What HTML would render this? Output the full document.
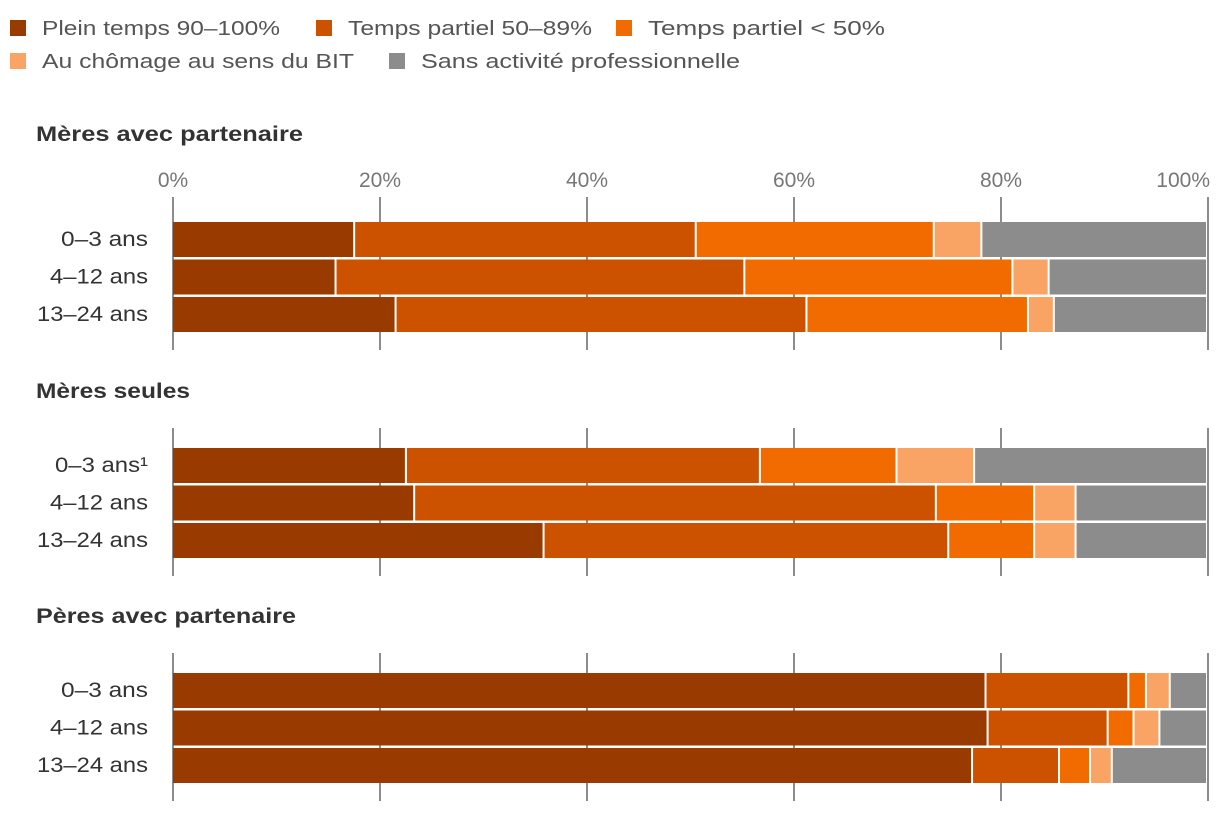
<!DOCTYPE html>
<html><head><meta charset="utf-8"><style>
body{margin:0;background:#fff;font-family:"Liberation Sans",sans-serif;}
svg text{font-family:"Liberation Sans",sans-serif;}
</style></head><body>
<svg id="chart" width="1220" height="814" xmlns="http://www.w3.org/2000/svg"></svg>
<script>
const seriesNames=["Plein temps 90–100%","Temps partiel 50–89%","Temps partiel < 50%","Au chômage au sens du BIT","Sans activité professionnelle"];
const colors=["#993a00","#cc5200","#f26b00","#f9a364","#8c8c8c"];
const groupTitles=["Mères avec partenaire","Mères seules","Pères avec partenaire"];
const categories=[["0–3 ans","4–12 ans","13–24 ans"],["0–3 ans¹","4–12 ans","13–24 ans"],["0–3 ans","4–12 ans","13–24 ans"]];
const valuesG1=[[17.6,33.0,23.0,4.6,21.8],[15.8,39.5,25.9,3.5,15.3],[21.6,39.7,21.4,2.5,14.8]];
const valuesG2=[[22.6,34.2,13.2,7.5,22.5],[23.4,50.4,9.5,4.0,12.7],[35.9,39.1,8.3,4.0,12.7]];
const valuesG3=[[78.6,13.8,1.7,2.3,3.6],[78.8,11.6,2.5,2.5,4.6],[77.3,8.4,3.0,2.1,9.2]];
const ticks=[0,20,40,60,80,100];
const NS="http://www.w3.org/2000/svg";
const svg=document.getElementById('chart');
const x=v=>173+v*10.35;
function mk(t,a,p){const e=document.createElementNS(NS,t);for(const k in a)e.setAttribute(k,a[k]);(p||svg).appendChild(e);return e;}
const legPos=[[10,28],[316,28],[616,28],[10,61],[389,61]];
const legLen=[238,244,237,312,319];
seriesNames.forEach((n,i)=>{
 const g=mk('g',{});
 
 
 mk('rect',{x:legPos[i][0],y:legPos[i][1]-8,width:16,height:16,fill:colors[i]},g);
 const t=mk('text',{x:legPos[i][0]+32,y:legPos[i][1]+7,'font-size':20,fill:'#555',textLength:legLen[i],lengthAdjust:'spacingAndGlyphs'},g);t.textContent=n;
});
const groups=[valuesG1,valuesG2,valuesG3];
const gTop=[133,390,615];
const titleLen=[267,154,260];
groups.forEach((vals,gi)=>{
 const base=gTop[gi];
 const tt=mk('text',{x:36,y:base+8,'font-size':21,'font-weight':'bold',fill:'#333',textLength:titleLen[gi],lengthAdjust:'spacingAndGlyphs'});
 
 
 tt.textContent=groupTitles[gi];
 const axTop=gi==0?197:base+38, axBot=base+(gi==0?217:186);
 ticks.forEach(tv=>{
  const l=mk('line',{x1:x(tv),x2:x(tv),y1:axTop,y2:axBot,stroke:'#666','stroke-width':1.5});
  
  
 });
 if(gi==0){ticks.forEach(tv=>{
  const t=mk('text',{x:x(tv),y:187,'font-size':21,fill:'#777','text-anchor':tv==100?'end':'middle'});
  if(tv==100)t.setAttribute('x',x(tv)+2);
  
  
  t.textContent=tv+'%';});}
 const y0=gi==0?222:base+58;
 vals.forEach((row,ri)=>{
  const y=y0+ri*37.5;
  const lab=categories[gi][ri];
  const len=lab.startsWith('13')?111:(lab.startsWith('4')?98:(lab.endsWith('¹')?93:87));
  const t=mk('text',{x:148-len,y:y+24,'font-size':21,fill:'#333',textLength:len,lengthAdjust:'spacingAndGlyphs'});
  
  
  t.textContent=lab;
  let c=0;
  row.forEach((v,si)=>{
   const r=mk('rect',{x:x(c),y:y,width:Math.max(0,x(c+v)-x(c)-2),height:35,fill:colors[si]});
   
   
   c+=v;
  });
 });
});
</script>
</body></html>
